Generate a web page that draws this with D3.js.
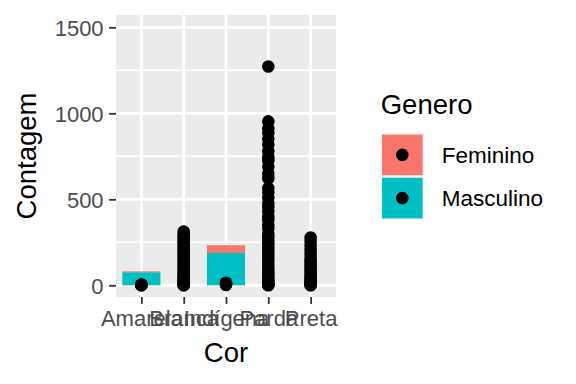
<!DOCTYPE html>
<html>
<head>
<meta charset="utf-8">
<script src="https://cdn.jsdelivr.net/npm/d3@7"></script>
<style>
  body { margin: 0; background: #fff; }
  text { font-family: "Liberation Sans", Arial, sans-serif; }
</style>
</head>
<body>
<div id="chart"></div>
<script>
// categories and values
var categorias = ['Amarela', 'Branca', 'Indígena', 'Parda', 'Preta'];
var generos = ['Feminino', 'Masculino'];
var cores = ['#F8766D', '#00BFC4'];

// bar heights (stacked, Feminino on top)
var barFeminino = [5, 0, 45, 0, 0];
var barMasculino = [76, 0, 188, 0, 0];

// points for each category
var pontosAmarela = [3, 0, 1, 4, 2];
var pontosBranca = [313, 300, 288, 275, 262, 250, 238, 225, 212, 200, 188, 175, 162, 150, 138, 125,
  112, 100, 90, 80, 70, 60, 50, 42, 35, 28, 20, 14, 8, 4, 1, 0];
var pontosIndigena = [15, 2, 8];
var pontosParda = [1272, 953, 912, 885, 850, 818, 780, 745, 727, 690, 650, 622, 565, 540, 510, 480,
  455, 430, 400, 380, 350, 330, 300, 280, 260, 240, 220, 200, 180, 160, 140, 120, 100, 85, 70, 55,
  40, 30, 20, 10, 5, 2, 0];
var pontosPreta = [278, 255, 232, 205, 185, 160, 145, 130, 115, 100, 88, 75, 62, 50, 40, 30, 20, 12, 6, 2, 0];

var yTicks = [0, 500, 1000, 1500];
var yMinor = [250, 750, 1250];

var width = 576, height = 384;
var panel = {left: 116, right: 336, top: 15, bottom: 297};

var svg = d3.select('#chart').append('svg')
    .attr('width', width)
    .attr('height', height);

var x = d3.scalePoint()
    .domain(categorias)
    .range([panel.left, panel.right])
    .padding(0.6);
var step = x.step();
var barW = step * 0.9;

var y = d3.scaleLinear()
    .domain([-68, 1571.5])
    .range([panel.bottom, panel.top]);

// panel background + grid
svg.append('rect')
    .attr('x', panel.left).attr('y', panel.top)
    .attr('width', panel.right - panel.left)
    .attr('height', panel.bottom - panel.top)
    .attr('fill', '#EBEBEB');

svg.selectAll('.minor').data(yMinor).enter().append('line')
    .attr('x1', panel.left).attr('x2', panel.right)
    .attr('y1', d => y(d)).attr('y2', d => y(d))
    .attr('stroke', '#fff').attr('stroke-width', 1.4);

svg.selectAll('.majorY').data(yTicks).enter().append('line')
    .attr('x1', panel.left).attr('x2', panel.right)
    .attr('y1', d => y(d)).attr('y2', d => y(d))
    .attr('stroke', '#fff').attr('stroke-width', 2.7);

svg.selectAll('.majorX').data(categorias).enter().append('line')
    .attr('x1', d => x(d)).attr('x2', d => x(d))
    .attr('y1', panel.top).attr('y2', panel.bottom)
    .attr('stroke', '#fff').attr('stroke-width', 2.7);

// stacked bars
var barras = [];
categorias.forEach(function(c, i) {
  if (barMasculino[i] > 0) barras.push({cat: c, y0: 0, y1: barMasculino[i], cor: cores[1]});
  if (barFeminino[i] > 0) barras.push({cat: c, y0: barMasculino[i], y1: barMasculino[i] + barFeminino[i], cor: cores[0]});
});

svg.selectAll('.bar').data(barras).enter().append('rect')
    .attr('x', d => x(d.cat) - barW / 2)
    .attr('width', barW)
    .attr('y', d => y(d.y1))
    .attr('height', d => y(d.y0) - y(d.y1))
    .attr('fill', d => d.cor);

// points
var listas = [pontosAmarela, pontosBranca, pontosIndigena, pontosParda, pontosPreta];
var pontos = [];
listas.forEach(function(l, i) {
  l.forEach(function(v) { pontos.push({cat: categorias[i], v: v}); });
});

svg.selectAll('.pt').data(pontos).enter().append('circle')
    .attr('cx', d => x(d.cat))
    .attr('cy', d => y(d.v))
    .attr('r', 6.3)
    .attr('fill', '#000');

// axes
var yAxis = svg.append('g')
    .attr('transform', `translate(${panel.left},0)`)
    .call(d3.axisLeft(y).tickValues(yTicks).tickFormat(d3.format('d')).tickSize(6.9).tickPadding(5.5));
var xAxis = svg.append('g')
    .attr('transform', `translate(0,${panel.bottom})`)
    .call(d3.axisBottom(x).tickSize(6.9).tickPadding(5.5));

[yAxis, xAxis].forEach(function(a) {
  a.select('.domain').remove();
  a.selectAll('line').attr('stroke', '#333333').attr('stroke-width', 1.8);
  a.selectAll('text')
      .attr('fill', '#4D4D4D')
      .style('font-size', '22px')
      .style('font-family', '"Liberation Sans", Arial, sans-serif');
});
yAxis.selectAll('text').attr('dy', '0.36em');
xAxis.selectAll('text').attr('dy', null).attr('y', 29);

// axis titles
svg.append('text')
    .attr('x', (panel.left + panel.right) / 2)
    .attr('y', 361.5)
    .attr('text-anchor', 'middle')
    .style('font-size', '27.5px')
    .text('Cor');

svg.append('text')
    .attr('transform', `translate(35.5,${(panel.top + panel.bottom) / 2})rotate(-90)`)
    .attr('text-anchor', 'middle')
    .style('font-size', '27.5px')
    .text('Contagem');

// legend
var legend = svg.append('g').attr('transform', 'translate(380.7,0)');
legend.append('text')
    .attr('x', 0).attr('y', 113.5)
    .style('font-size', '27.5px')
    .text('Genero');

var keySize = 43.2;
var keys = legend.selectAll('.key').data(generos).enter().append('g')
    .attr('transform', (d, i) => `translate(0,${133.3 + i * keySize})`);
keys.append('rect')
    .attr('width', keySize).attr('height', keySize)
    .attr('fill', '#F2F2F2');
keys.append('rect')
    .attr('x', 1.3).attr('y', 1.3)
    .attr('width', keySize - 2.6).attr('height', keySize - 2.6)
    .attr('fill', (d, i) => cores[i]);
keys.append('circle')
    .attr('cx', keySize / 2).attr('cy', keySize / 2)
    .attr('r', 6.3).attr('fill', '#000');
keys.append('text')
    .attr('x', 61).attr('y', keySize / 2)
    .attr('dy', '0.36em')
    .style('font-size', '22.5px')
    .text(d => d);
</script>
</body>
</html>
